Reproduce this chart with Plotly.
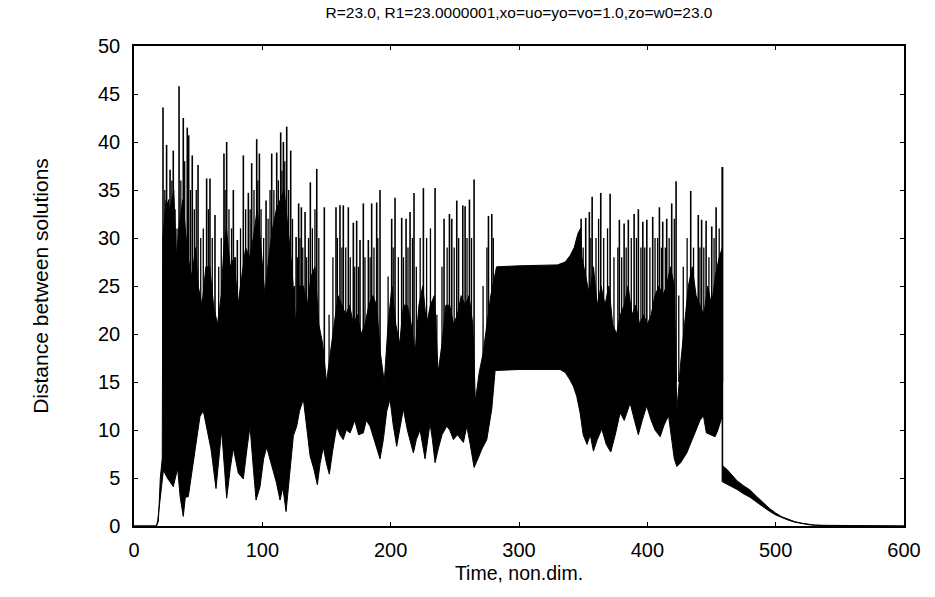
import plotly.graph_objects as go

# ---------------- data ----------------
# lower envelope of the oscillation (troughs)
lo_t = [0, 17.5, 18.5, 20.3, 22.9, 26, 30.6, 34, 36, 38.4, 40, 42.3, 45, 47.5, 51.4, 54, 56.6, 60, 63.9, 66,
        68.3, 70.5, 72.2, 75, 77.4, 81.3, 85.2, 88, 90.4, 93, 95.1, 98.2, 101, 103.4, 106, 108.6, 111, 113.8,
        116, 118.5, 121.6, 124.2, 126.8, 129, 132, 134.5, 137.2, 140, 142.9, 145, 147.5, 150, 152.2, 155, 158,
        160.5, 163, 165.5, 168.4, 172, 175, 178.7, 181, 183.9, 188, 191.7, 194.3, 197, 199.5, 202, 204.7, 207,
        209.9, 213, 217.7, 220, 222.9, 226.8, 228.5, 230.7, 232.5, 234.6, 237, 240, 243.7, 246, 248.9, 252,
        256.7, 259.3, 262, 265, 268, 271, 274.9, 278.8, 281.4, 300, 332, 336, 339.8, 342.5, 345, 347.6, 350,
        353, 355.5, 358, 361, 364.5, 368, 371.5, 375, 378.8, 382, 386.6, 390, 393, 396, 399.5, 403, 406, 410,
        413, 416.5, 419, 421, 423, 426, 430.7, 434.6, 438, 441, 443.7, 446, 449, 452.8, 455, 457, 458.5]
lo_d = [0, 0, 0.6, 2.7, 5.8, 5, 4.1, 6, 3, 1.0, 3, 3.05, 5.5, 7.6, 11.4, 12, 10.4, 8, 3.9, 7,
        10.0, 6, 2.9, 6, 8.1, 5.5, 4.9, 8, 10.4, 6, 2.7, 4.1, 7, 8.2, 7, 5.8, 4.5, 2.7,
        4, 1.5, 5.6, 9.4, 10.4, 12, 13.2, 10, 7.3, 6, 4.3, 6.5, 8.2, 6.5, 5.4, 8, 10.4,
        9.5, 9.0, 10, 9.7, 11, 9.5, 9.7, 11, 10.4, 8.5, 7.0, 9.0, 12, 13.2, 10.5, 8.3, 10,
        12.2, 10, 7.6, 9, 10, 7.0, 8.5, 10.7, 9, 6.6, 8, 9.5, 10.4, 10, 9.0, 9.5,
        8.7, 10.4, 8.5, 6.1, 7, 8, 9.0, 12.2, 16.2, 16.3, 16.3, 16, 15.2, 14.5, 13.5, 11.8, 9.5,
        8.5, 9.5, 7.8, 9, 10.1, 8.5, 7.7, 9.5, 11.8, 11, 12.8, 11, 9.5, 11, 12.5, 11, 10, 9.3,
        10.5, 11.5, 9, 7, 6.2, 6.6, 7.6, 9.0, 10, 11, 11.5, 9.7, 9.5, 9.3, 10, 11, 11.5]

# top of the densely filled (solid black) part of the oscillation
hi_t = [0, 17.5, 19, 20.5, 22, 22.5, 25, 28, 31, 33, 35, 38, 40, 42, 45, 48, 50, 53, 56, 59, 62, 65, 68, 70,
        72, 75, 78, 81, 84, 87, 90, 93, 96, 99, 102, 105, 108, 111, 114, 117, 120, 123, 126, 129, 132, 135,
        138, 141, 144, 147, 150, 153, 156, 159, 162, 165, 168, 171, 174, 177, 180, 183, 186, 189, 192, 195,
        198, 201, 204, 207, 210, 213, 216, 219, 222, 225, 228, 231, 234, 237, 240, 243, 246, 249, 252, 255,
        258, 261, 264, 266, 269, 272, 275, 278, 281, 282.5, 300, 330, 336, 340, 343, 346, 348, 349, 352, 355,
        358, 361, 364, 367, 370, 373, 376, 379, 382, 385, 388, 391, 394, 397, 400, 403, 406, 409, 412, 415,
        418, 421, 423, 426, 429, 432, 435, 438, 441, 444, 447, 450, 453, 456, 458.5]
hi_d = [0, 0, 0.5, 5, 7, 30, 34, 33, 35, 28, 31, 34, 31, 28, 26, 29, 25, 23, 27, 27, 23, 21, 24, 29,
        31, 27, 28, 23, 26, 29, 28, 30, 33, 29, 24, 28, 31, 33, 34, 35, 31, 27, 21, 25, 25, 23,
        26, 27, 21, 19, 15, 18, 21, 24, 23, 22, 23, 21, 22, 20, 21, 23, 24, 23, 18, 15,
        21, 25, 21, 19, 23, 23, 21, 18, 23, 25, 21, 23, 24, 16, 19, 23, 23, 21, 22, 24,
        23, 24, 21, 13, 16, 18, 21, 24, 26, 27, 27.1, 27.2, 27.5, 28.2, 29, 30.5, 31, 28, 26, 24,
        27, 23, 25, 23, 25, 21, 20, 22, 23, 25, 22, 23, 21, 22, 21, 22, 24, 25, 24, 25,
        27, 25, 12, 17, 21, 25, 27, 24, 23, 22, 25, 23, 26, 28, 29]

# tallest bursts: time and peak value
spike_t = [22.6, 25.4, 28.1, 30.6, 35.1, 38.4, 41.5, 42.6, 45.4, 49.9, 56.6, 59.2, 63.1, 70.1, 72.2, 77.4,
           80.5, 85.2, 89.1, 91.7, 95.6, 97.7, 102.9, 107.3, 111.2, 114.3, 116.4, 119.0, 122.1, 126.3,
           128.3, 130.4, 133.3, 137.4, 142.4, 148.3, 157.4, 160.5, 163.1, 167.0, 170.9, 173.5, 176.1,
           178.7, 182.6, 185.2, 189.1, 191.7, 200.8, 203.4, 208.6, 212.0, 215.1, 218.2, 225.5, 234.6,
           241.6, 245.8, 247.6, 251.5, 256.2, 258.0, 261.4, 265.0, 276.2, 278.8, 348.4, 352.0, 354.8,
           357.0, 363.7, 371.0, 378.2, 381.9, 385.2, 389.7, 393.0, 396.5, 399.6, 404.2, 409.4, 412.0,
           415.1, 419.0, 422.4, 433.8, 439.7, 442.3, 445.8, 450.2, 453.6, 458.5]
spike_peak = [43.6, 39.7, 37.1, 39.1, 45.8, 42.5, 41.5, 40.7, 38.6, 37.6, 36.2, 36.2, 32.4, 38.8, 40.0, 35.0,
              29.8, 38.6, 34.7, 37.8, 40.3, 38.8, 33.9, 38.8, 38.9, 41.0, 40.0, 41.6, 39.1, 30.1,
              33.6, 33.2, 32.7, 35.8, 37.2, 33.2, 33.2, 33.4, 33.4, 33.2, 31.6, 31.8, 29.8,
              33.6, 29.8, 33.6, 33.7, 35.0, 32.0, 34.2, 32.1, 32.0, 32.7, 34.7, 35.2, 35.2,
              32.0, 32.5, 32.0, 33.9, 33.4, 33.3, 34.0, 36.1, 32.3, 32.5, 32.0, 32.1, 32.7,
              34.3, 34.7, 34.6, 31.9, 31.5, 31.9, 32.5, 33.0, 31.7, 31.9, 32.2, 33.2, 31.7,
              32.0, 33.6, 35.9, 34.9, 32.4, 31.9, 31.8, 31.2, 33.2, 37.4]

# smaller bursts building up before the tall ones
sub_t = [24, 27, 29.5, 32, 33.5, 36.5, 39.5, 44, 47, 48.5, 52, 54, 58, 61, 66, 68, 71, 74, 76, 79, 83, 87,
         90.5, 93.5, 96.5, 99, 101, 104.5, 106, 109, 112.5, 115.3, 117.5, 120.5, 123.5, 125, 127.3, 129.3,
         131.5, 134.5, 136, 139, 141, 144, 152, 155, 158.5, 162, 165, 168.5, 172, 175, 180, 184, 187, 190,
         198, 202, 206, 210, 213.5, 217, 220, 223, 228, 231, 236, 240, 244, 249.5, 253, 259.5, 263, 272,
         275, 280, 350, 356, 360, 362, 366, 369, 374, 377, 380, 383.5, 387.5, 391.5, 395, 398, 402, 406,
         408, 411, 414, 417, 421, 424.5, 428, 431, 436, 441, 444, 448, 452, 456]
sub_peak = [35, 34, 36, 33, 31, 36, 38, 35, 33, 35, 30, 31, 33, 30, 27, 30, 35, 33, 31, 28, 31, 33,
            33, 35, 36, 33, 30, 32, 35, 35, 36, 37, 38, 35, 32, 25, 28, 30,
            29, 28, 30, 31, 33, 30, 22, 28, 30, 29, 29, 28, 27, 27, 28, 28, 29, 30,
            26, 29, 28, 28, 29, 30, 27, 30, 30, 31, 22, 27, 29, 29, 30, 30, 30, 25,
            29, 30, 29, 30, 30, 32, 30, 31, 28, 29, 28, 29, 30, 30, 29, 29, 29, 30,
            30, 29, 29, 30, 32, 24, 27, 30, 29, 29, 29, 28, 30, 31]

# final decay after the solutions re-synchronise
tail_t = [458.5, 462, 466, 470, 475, 480, 485, 490, 495, 500, 505, 510, 515, 520, 525, 530, 540, 600]
tail_top = [6.3, 5.9, 5.3, 4.7, 4.2, 3.75, 3.1, 2.45, 1.85, 1.35, 0.95, 0.7, 0.45, 0.3, 0.18, 0.1, 0.03, 0]
tail_bot = [4.6, 4.4, 4.1, 3.8, 3.35, 3.0, 2.5, 2.0, 1.55, 1.15, 0.85, 0.6, 0.4, 0.25, 0.15, 0.08, 0.02, 0]

x_ticks = [0, 100, 200, 300, 400, 500, 600]
y_ticks = [0, 5, 10, 15, 20, 25, 30, 35, 40, 45, 50]

TITLE = "R=23.0, R1=23.0000001,xo=uo=yo=vo=1.0,zo=w0=23.0"
SPIKE_BASE = 15.0

# ---------------- figure ----------------
FONT = "Liberation Sans, Arial, sans-serif"
fig = go.Figure()

# dense oscillation core
fig.add_trace(go.Scatter(
    x=lo_t + hi_t[::-1], y=lo_d + hi_d[::-1], mode="lines", fill="toself",
    fillcolor="black", line=dict(color="black", width=1), hoverinfo="skip", showlegend=False))


def segments(ts, peaks):
    xs, ys = [], []
    for t, p in zip(ts, peaks):
        xs += [t, t, None]
        ys += [SPIKE_BASE, p, None]
    return xs, ys


for ts, ps, w in ((sub_t, sub_peak, 1.3), (spike_t, spike_peak, 1.6)):
    sx, sy = segments(ts, ps)
    fig.add_trace(go.Scatter(x=sx, y=sy, mode="lines", line=dict(color="black", width=w),
                             hoverinfo="skip", showlegend=False))

# drop into the decaying tail
fig.add_trace(go.Scatter(x=[tail_t[0], tail_t[0]], y=[tail_bot[0], spike_peak[-1]], mode="lines",
                         line=dict(color="black", width=1.6), hoverinfo="skip", showlegend=False))

# decaying tail band
fig.add_trace(go.Scatter(
    x=tail_t + tail_t[::-1], y=tail_top + tail_bot[::-1], mode="lines", fill="toself",
    fillcolor="black", line=dict(color="black", width=1), hoverinfo="skip", showlegend=False))

fig.update_layout(
    width=935, height=597,
    margin=dict(l=134, r=31, t=46, b=71),
    paper_bgcolor="white", plot_bgcolor="white",
    font=dict(family=FONT, color="black", size=20),
    title=dict(text=TITLE, x=0.5, xref="paper", xanchor="center",
               y=1 - 13 / 597, yref="container", yanchor="middle",
               font=dict(family=FONT, size=15.5, color="black")),
)
fig.update_xaxes(range=[0, 600], tickvals=x_ticks, ticktext=[str(v) for v in x_ticks],
                 showgrid=False, zeroline=False, showline=True, mirror="ticks",
                 linecolor="black", linewidth=1.5, ticks="inside", ticklen=4, tickcolor="black",
                 tickfont=dict(size=20), ticklabelstandoff=5, automargin=False,
                 title=dict(text="Time, non.dim.", font=dict(size=19.5), standoff=7))
fig.update_yaxes(range=[0, 50], tickvals=y_ticks, ticktext=[str(v) for v in y_ticks],
                 showgrid=False, zeroline=False, showline=True, mirror="ticks",
                 linecolor="black", linewidth=1.5, ticks="inside", ticklen=4, tickcolor="black",
                 tickfont=dict(size=20), ticklabelstandoff=8, automargin=False,
                 title=dict(text="Distance between solutions", font=dict(size=21), standoff=44))

fig.write_html("out.html", config={"displayModeBar": False},
               post_script="document.body.style.margin='0';")
